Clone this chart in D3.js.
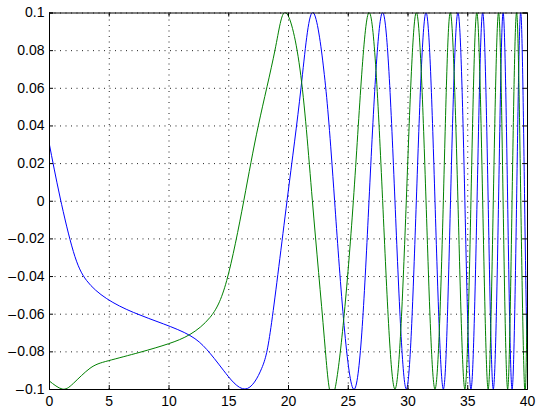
<!DOCTYPE html>
<html>
<head>
<meta charset="utf-8">
<script src="https://cdn.jsdelivr.net/npm/d3@7"></script>
<style>
  body { margin: 0; background: #fff; }
  svg text { font-family: "Liberation Sans", Arial, Helvetica, sans-serif; font-size: 14px; fill: #000; }
</style>
</head>
<body>
<div id="chart"></div>
<script>
// Chart size
const width = 536;
const height = 408;
const margin = { top: 12.5, right: 9, bottom: 19, left: 49 };

// Axis ticks
const xTicks = [0, 5, 10, 15, 20, 25, 30, 35, 40];
const yTicks = [-0.1, -0.08, -0.06, -0.04, -0.02, 0, 0.02, 0.04, 0.06, 0.08, 0.1];
const yTickLabels = ["\u2013\u200A0.1", "\u2013\u200A0.08", "\u2013\u200A0.06", "\u2013\u200A0.04", "\u2013\u200A0.02",
  "0", "0.02", "0.04", "0.06", "0.08", "0.1"];

// Blue series
const blueX = [0, 0.92, 2.04, 3.15, 4.83, 7.06, 9.57, 11.8, 13.2, 14.59, 16.4,
  17.8, 18.63, 19.92, 21.09, 22.04, 23.04,
  23.9, 25.47, 26.78, 27.92, 28.95, 29.9, 30.74, 31.55, 32.3, 33.0, 33.6, 34.22, 34.8, 35.31,
  35.82, 36.29, 36.75, 37.18, 37.62, 38.0, 38.38, 38.75, 39.13, 39.48, 39.8, 40];
const blueY = [0.031, 0.002, -0.027, -0.0424, -0.052, -0.0593, -0.0654, -0.0716, -0.079, -0.09, -0.1,
  -0.089, -0.0646, 0, 0.06, 0.1, 0.067,
  0, -0.1, 0, 0.1, 0, -0.1, 0, 0.1, 0, -0.1, 0, 0.1, 0, -0.1,
  0, 0.1, 0, -0.1, 0, 0.1, 0, -0.1, 0, 0.1, 0, -0.08];

// Green series
const greenX = [0, 1.1, 2.04, 3.43, 4.96, 7.61, 9.98, 11.8, 13.47, 14.87, 16.3,
  17.52, 18.91, 19.8, 21.0, 22.04, 23.04,
  23.93, 25.47, 26.78, 27.92, 28.95, 29.9, 30.74, 31.55, 32.3, 33.0, 33.58, 34.22, 34.8, 35.31,
  35.8, 36.29, 36.75, 37.18, 37.62, 38.0, 38.38, 38.75, 39.13, 39.48, 39.8, 40];
const greenY = [-0.0956, -0.1, -0.097, -0.089, -0.085, -0.0805, -0.076, -0.071, -0.062, -0.0424, 0,
  0.04, 0.08, 0.1, 0.07, 0, -0.073,
  -0.1, 0, 0.1, 0, -0.1, 0, 0.1, 0, -0.1, 0, 0.1, 0, -0.1, 0,
  0.1, 0, -0.1, 0, 0.1, 0, -0.1, 0, 0.1, 0, -0.1, -0.06];

const innerW = width - margin.left - margin.right;
const innerH = height - margin.top - margin.bottom;

const x = d3.scaleLinear().domain([0, 40]).range([0, innerW]);
const y = d3.scaleLinear().domain([-0.1, 0.1]).range([innerH, 0]);

const svg = d3.select("#chart").append("svg")
  .attr("width", width)
  .attr("height", height);

const g = svg.append("g")
  .attr("transform", `translate(${margin.left},${margin.top})`);

svg.append("defs").append("clipPath")
  .attr("id", "plot-clip")
  .append("rect")
  .attr("width", innerW)
  .attr("height", innerH);

// Grid lines (dotted)
const gridX = g.append("g")
  .attr("transform", `translate(0,${innerH})`)
  .call(d3.axisBottom(x).tickValues(xTicks).tickSize(-innerH).tickFormat(""));
const gridY = g.append("g")
  .call(d3.axisLeft(y).tickValues(yTicks).tickSize(-innerW).tickFormat(""));
[gridX, gridY].forEach(gr => {
  gr.select(".domain").remove();
  gr.selectAll("line")
    .attr("stroke", "#222")
    .attr("stroke-dasharray", "1,4.5");
});

// Curves
const lineOf = (xs, ys) => d3.line()
  .x((d, i) => x(xs[i]))
  .y(d => y(d))
  .curve(d3.curveNatural)(ys);

const plot = g.append("g").attr("clip-path", "url(#plot-clip)");

plot.append("path")
  .attr("d", lineOf(blueX, blueY))
  .attr("fill", "none")
  .attr("stroke", "#0000ff")
  .attr("stroke-width", 1);

plot.append("path")
  .attr("d", lineOf(greenX, greenY))
  .attr("fill", "none")
  .attr("stroke", "#008000")
  .attr("stroke-width", 1);

// Axes with inward ticks on all four sides
g.append("g")
  .attr("transform", `translate(0,${innerH})`)
  .call(d3.axisBottom(x).tickValues(xTicks).tickSize(-4).tickPadding(7.5).tickFormat(d3.format("d")));

g.append("g")
  .call(d3.axisLeft(y).tickValues(yTicks).tickSize(-4).tickPadding(4.5)
    .tickFormat((d, i) => yTickLabels[i]));

g.append("g")
  .call(d3.axisTop(x).tickValues(xTicks).tickSize(-4).tickFormat(""));

g.append("g")
  .attr("transform", `translate(${innerW},0)`)
  .call(d3.axisRight(y).tickValues(yTicks).tickSize(-4).tickFormat(""));

g.selectAll(".domain").attr("stroke", "#000");
</script>
</body>
</html>
